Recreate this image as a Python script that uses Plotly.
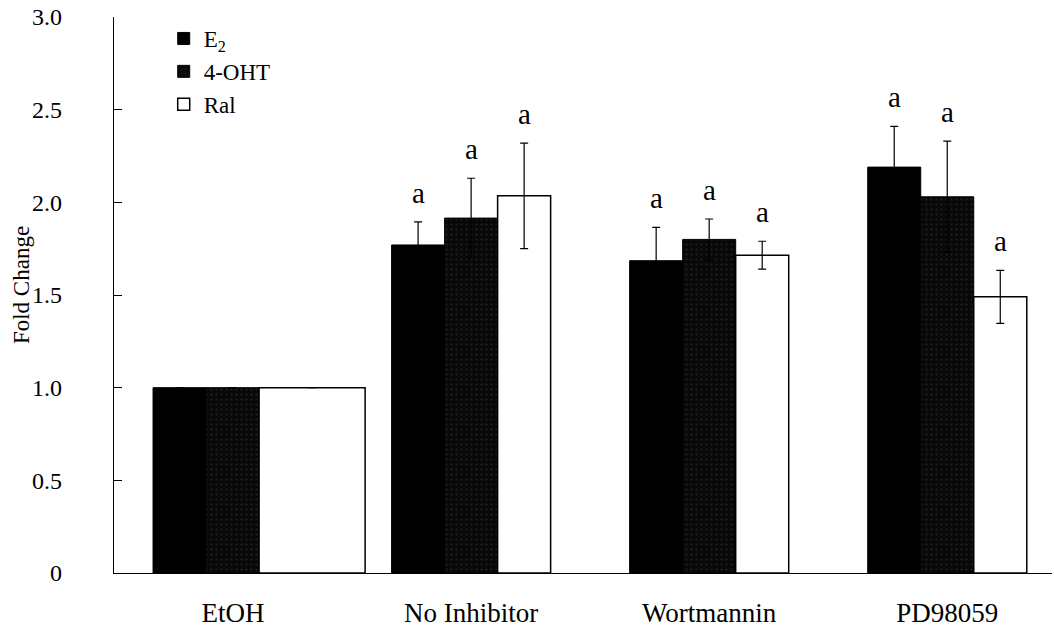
import plotly.graph_objects as go

# Groups and their values
groups = ["EtOH", "No Inhibitor", "Wortmannin", "PD98059"]
group_pos = [0, 1, 2, 3]

e2_vals = [1.0, 1.77, 1.685, 2.19]
e2_err = [0.0, 0.125, 0.18, 0.22]

oht_vals = [1.0, 1.915, 1.80, 2.03]
oht_err = [0.0, 0.215, 0.11, 0.30]

ral_vals = [1.0, 2.035, 1.715, 1.49]
ral_err = [0.0, 0.285, 0.075, 0.143]

sig_labels = ["", "a", "a", "a"]

y_ticks = [0, 0.5, 1.0, 1.5, 2.0, 2.5, 3.0]
y_tick_text = ["0", "0.5", "1.0", "1.5", "2.0", "2.5", "3.0"]

W = 0.2227  # single bar width in group units
FONT = "Liberation Serif"

fig = go.Figure()

err_style = dict(type="data", visible=True, color="black", thickness=1.2, width=4)

fig.add_trace(go.Bar(
    name="E<sub>2</sub>", x=group_pos, y=e2_vals,
    width=[W] * 4, offset=[-0.336, -1.5 * W, -1.5 * W, -1.5 * W],
    marker=dict(color="black", line=dict(color="black", width=1)),
    error_y=dict(array=e2_err, **err_style),
))
fig.add_trace(go.Bar(
    name="4-OHT", x=group_pos, y=oht_vals,
    width=[W] * 4, offset=[-0.336 + W, -0.5 * W, -0.5 * W, -0.5 * W],
    marker=dict(color="#080808", line=dict(color="black", width=1),
                pattern=dict(shape=".", fgcolor="#3a3a3a", bgcolor="#080808",
                             size=5, solidity=0.15)),
    error_y=dict(array=oht_err, **err_style),
))
fig.add_trace(go.Bar(
    name="Ral", x=group_pos, y=ral_vals,
    width=[2 * W, W, W, W], offset=[-0.336 + 2 * W, 0.5 * W, 0.5 * W, 0.5 * W],
    marker=dict(color="white", line=dict(color="black", width=1.5)),
    error_y=dict(array=ral_err, **err_style),
))

# significance letters above each error bar
offsets = [-W, 0, W]
for series_vals, series_err, dx in [(e2_vals, e2_err, offsets[0]),
                                    (oht_vals, oht_err, offsets[1]),
                                    (ral_vals, ral_err, offsets[2])]:
    for gx, v, e, lab in zip(group_pos, series_vals, series_err, sig_labels):
        if lab:
            fig.add_annotation(x=gx + dx, y=v + e, text=lab, showarrow=False,
                               yanchor="bottom", yshift=11,
                               font=dict(family=FONT, size=29, color="black"))

# y-axis title
fig.add_annotation(x=-0.098, y=0.518, xref="paper", yref="paper",
                   text="Fold Change", textangle=-90, showarrow=False,
                   xanchor="center", yanchor="middle",
                   font=dict(family=FONT, size=23, color="black"))

fig.update_layout(
    width=1054, height=631,
    margin=dict(l=114, r=2, t=17, b=58),
    paper_bgcolor="white", plot_bgcolor="white",
    barmode="overlay",
    showlegend=True,
    legend=dict(x=0.053, y=1.0, xanchor="left", yanchor="top",
                font=dict(family=FONT, size=23, color="black"),
                bgcolor="rgba(0,0,0,0)", tracegroupgap=0, itemwidth=30),
    font=dict(family=FONT, color="black"),
)

fig.update_xaxes(
    range=[-0.5, 3.44], tickvals=group_pos, ticktext=groups,
    showline=True, linecolor="black", linewidth=1.2, showgrid=False,
    zeroline=False, ticks="", ticklabelstandoff=15,
    tickfont=dict(family=FONT, size=27, color="black"),
)
fig.update_yaxes(
    range=[0, 3.0], tickvals=y_ticks, ticktext=y_tick_text,
    showline=True, linecolor="black", linewidth=1.2, showgrid=False,
    zeroline=False, ticks="inside", ticklen=8, tickwidth=1.2, tickcolor="black",
    ticklabelstandoff=46,
    tickfont=dict(family=FONT, size=24, color="black"),
)

fig.write_html("out.html")
